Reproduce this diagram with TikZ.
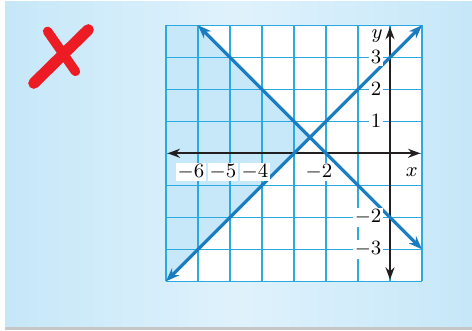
\documentclass[tikz,border=0pt]{standalone}
\usepackage{amsmath}
\usepackage{amssymb}
\usetikzlibrary{arrows.meta}
\definecolor{panelside}{HTML}{C6E7F8}
\definecolor{panelmid}{HTML}{DFF2FC}
\definecolor{gridblue}{HTML}{2AAAE1}
\definecolor{lineblue}{HTML}{1A7CC1}
\definecolor{shadeblue}{HTML}{C6E8F8}
\definecolor{axisblack}{HTML}{231F20}
\definecolor{markred}{HTML}{ED1C24}

\begin{document}
\begin{tikzpicture}[x=0.5cm,y=0.5cm,
  gridline/.style={draw=gridblue,line width=0.7pt},
  graphline/.style={draw=lineblue,line width=1.4pt,
    {Stealth[length=6pt,width=4.5pt]}-{Stealth[length=6pt,width=4.5pt]}},
  axisline/.style={draw=axisblack,line width=0.8pt,
    {Stealth[length=5.5pt,width=4pt]}-{Stealth[length=5.5pt,width=4pt]}},
  ticklabel/.style={fill=white,inner sep=0.8pt,font=\fontsize{8.8}{10}\selectfont}]
\useasboundingbox (-12.1875,-5.5219) rectangle (2.5625,4.7906);
% panel
\fill[gray!45] (-12.03,-5.5219) rectangle (2.5625,-5.40);
\shade[left color=panelside,right color=panelside,middle color=panelmid]
  (-12.03,-5.419) rectangle (2.5625,4.728);
% red cross
\draw[markred,line width=4.2pt,line cap=round] (-10.70,3.81) -- (-9.83,2.56);
\draw[markred,line width=5pt,line cap=round] (-9.43,3.86) -- (-11.13,2.19);
% grid and shaded region
\fill[white] (-7,-4) rectangle (1,4);
\fill[shadeblue] (-7,4) -- (-6,4) -- (-2.5,0.5) -- (-7,-4) -- cycle;
\draw[gridline,step=0.5cm] (-7,-4) grid (1,4);
% axes
\draw[axisline] (-6.95,0) -- (0.95,0);
\draw[axisline] (0,-3.95) -- (0,3.95);
% graphs
\draw[graphline] (-6,4) -- (1,-3);
\draw[graphline] (-7,-4) -- (1,4);
% labels
\foreach \v in {-6,-5,-4,-2}
  \node[ticklabel] (xl\v) at (\v-0.22,-0.58) {$\v$};
\foreach \v in {3,2,1,-2,-3}
  \node[ticklabel,anchor=east] (yl\v) at (-0.2,\v) {$\v$};
\node[font=\fontsize{9.5}{11}\selectfont] (xname) at (0.68,-0.58) {$x$};
\node[font=\fontsize{9.5}{11}\selectfont] (yname) at (-0.4,3.67) {$y$};
\end{tikzpicture}
\end{document}
